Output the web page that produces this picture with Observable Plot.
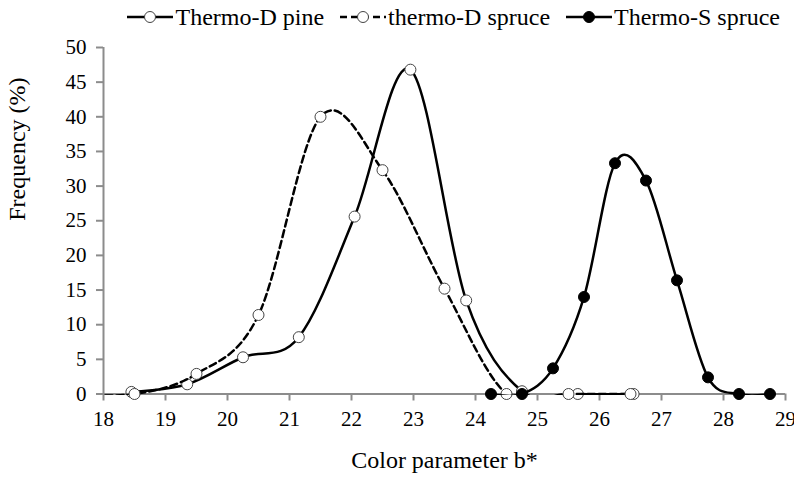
<!DOCTYPE html>
<html>
<head>
<meta charset="utf-8">
<script src="https://cdn.jsdelivr.net/npm/d3@7"></script>
<script src="https://cdn.jsdelivr.net/npm/@observablehq/plot@0.6"></script>
<style>
  html, body { margin: 0; padding: 0; background: #fff; }
  #wrap { width: 794px; height: 478px; overflow: hidden; font-family: "Liberation Serif", "Times New Roman", serif; }
  #legend { height: 34px; display: flex; justify-content: flex-end; align-items: center; padding-right: 14px; font-size: 24px; color: #000; }
  #legend .item { display: flex; align-items: center; margin-left: 16px; }
  #legend svg { display: block; margin-right: 2px; }
</style>
</head>
<body>
<div id="wrap">
  <div id="legend"></div>
  <div id="chart"></div>
</div>
<script>
// ---- data ----
const seriesNames = ["Thermo-D pine", "thermo-D spruce", "Thermo-S spruce"];

const pineX = [18.45, 19.35, 20.25, 21.15, 22.05, 22.95, 23.85, 24.75, 25.65, 26.55];
const pineY = [0.3, 1.4, 5.3, 8.2, 25.6, 46.8, 13.5, 0.4, 0, 0];

const spruceDX = [17.5, 18.5, 19.5, 20.5, 21.5, 22.5, 23.5, 24.5, 25.5, 26.5];
const spruceDY = [0, 0, 2.9, 11.4, 40.0, 32.3, 15.2, 0, 0, 0];

const spruceSX = [24.25, 24.75, 25.25, 25.75, 26.25, 26.75, 27.25, 27.75, 28.25, 28.75];
const spruceSY = [0, 0, 3.7, 14.0, 33.3, 30.8, 16.4, 2.4, 0, 0];

const xTicks = [18, 19, 20, 21, 22, 23, 24, 25, 26, 27, 28, 29];
const yTicks = [0, 5, 10, 15, 20, 25, 30, 35, 40, 45, 50];

const xTitle = "Color parameter b*";
const yTitle = "Frequency (%)";

// ---- build tables ----
const zip = (xs, ys) => xs.map((x, i) => ({x, y: ys[i]}));
const pine = zip(pineX, pineY);
const spruceD = zip(spruceDX, spruceDY);
const spruceS = zip(spruceSX, spruceSY);

const gray = "#8c8c8c";
const font = "'Liberation Serif', 'Times New Roman', serif";
const dash = "7,4";

// ---- legend ----
const legendStyles = [
  {dash: null, fill: "#fff", stroke: "#444"},
  {dash: dash, fill: "#fff", stroke: "#444"},
  {dash: null, fill: "#000", stroke: "#000"}
];
const legend = document.getElementById("legend");
seriesNames.forEach((name, i) => {
  const s = legendStyles[i];
  const item = document.createElement("div");
  item.className = "item";
  item.innerHTML =
    `<svg width="46" height="20"><line x1="0" x2="46" y1="10" y2="10" stroke="#000" stroke-width="2.5"${s.dash ? ` stroke-dasharray="${s.dash}"` : ""}/>` +
    `<circle cx="23" cy="10" r="5.5" fill="${s.fill}" stroke="${s.stroke}" stroke-width="1"/></svg>` +
    `<span>${name}</span>`;
  legend.appendChild(item);
});

// ---- chart ----
const chart = Plot.plot({
  width: 794,
  height: 444,
  marginTop: 13,
  marginBottom: 84.5,
  marginLeft: 103,
  marginRight: 9,
  style: {fontFamily: font, color: "#000", background: "#fff", overflow: "hidden"},
  x: {domain: [18, 29]},
  y: {domain: [0, 50]},
  marks: [
    Plot.ruleY([0], {stroke: gray, strokeWidth: 2}),
    Plot.ruleX([18], {stroke: gray, strokeWidth: 2}),
    Plot.axisX(xTicks, {tickSize: 7, tickPadding: 10, stroke: gray, strokeWidth: 2, fontSize: 21, fill: "#000", label: null, tickFormat: d => String(d)}),
    Plot.axisY(yTicks, {tickSize: 7, tickPadding: 10, stroke: gray, strokeWidth: 2, fontSize: 21, fill: "#000", label: null, tickFormat: d => String(d)}),
    Plot.text([xTitle], {frameAnchor: "bottom", dy: 74, text: d => d, fontSize: 24, fill: "#000"}),
    Plot.text([yTitle], {frameAnchor: "left", dx: -86, rotate: -90, text: d => d, fontSize: 24, fill: "#000"}),

    Plot.line(pine, {x: "x", y: "y", curve: "cardinal", stroke: "#000", strokeWidth: 2.5, clip: true}),
    Plot.dot(pine, {x: "x", y: "y", r: 5.5, fill: "#fff", stroke: "#444", strokeWidth: 1}),

    Plot.line(spruceD, {x: "x", y: "y", curve: "cardinal", stroke: "#000", strokeWidth: 2.5, strokeDasharray: dash, clip: true}),
    Plot.dot(spruceD, {filter: d => d.x >= 18, x: "x", y: "y", r: 5.5, fill: "#fff", stroke: "#444", strokeWidth: 1}),

    Plot.line(spruceS, {x: "x", y: "y", curve: "cardinal", stroke: "#000", strokeWidth: 2.5, clip: true}),
    Plot.dot(spruceS, {x: "x", y: "y", r: 5.5, fill: "#000", stroke: "#000", strokeWidth: 1})
  ]
});

// let line strokes lying on the zero baseline keep their full width
chart.querySelectorAll("clipPath rect").forEach(r => {
  r.setAttribute("height", +r.getAttribute("height") + 1.5);
});

document.getElementById("chart").appendChild(chart);
</script>
</body>
</html>
